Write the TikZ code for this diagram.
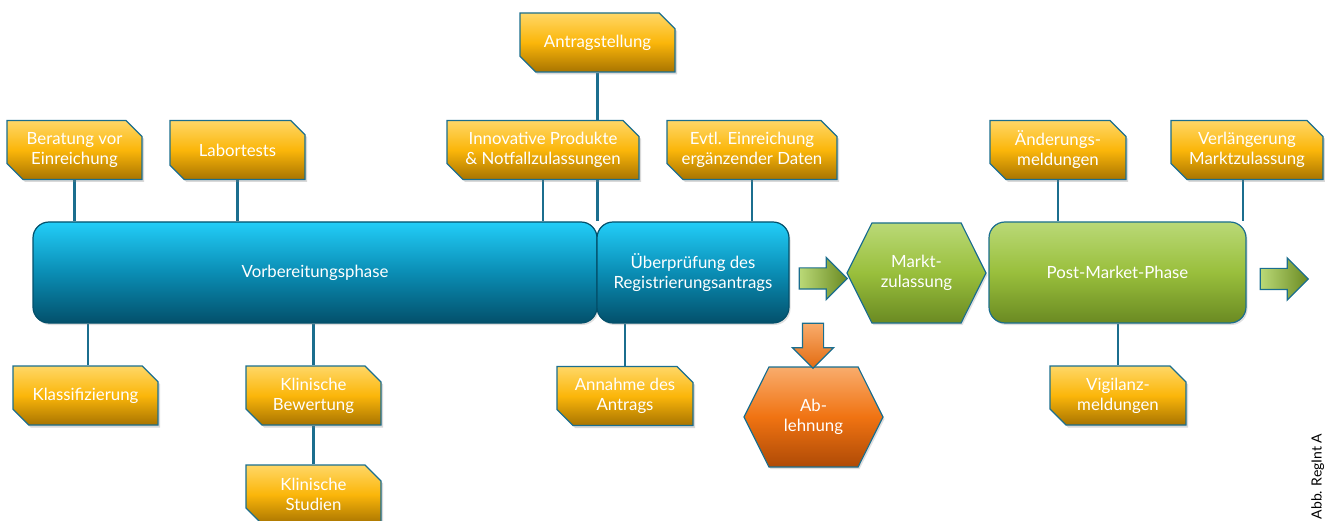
\documentclass[tikz,border=0pt]{standalone}
\usepackage{fontspec}
\setmainfont{Lato}
\usetikzlibrary{shapes,shapes.misc,shapes.arrows,shapes.symbols,shadows,backgrounds}
\definecolor{linkblue}{HTML}{1B6E8E}
\definecolor{taskhi}{HTML}{FFD766}
\definecolor{taskmid}{HTML}{FBB60A}
\definecolor{tasklo}{HTML}{A87400}
\definecolor{phasehi}{HTML}{22CDF8}
\definecolor{phasemid}{HTML}{0A8DB4}
\definecolor{phaselo}{HTML}{03506B}
\definecolor{greenhi}{HTML}{BAD977}
\definecolor{greenmid}{HTML}{99BF3C}
\definecolor{greenlo}{HTML}{6A8A22}
\definecolor{redhi}{HTML}{F9AC6C}
\definecolor{redmid}{HTML}{F07312}
\definecolor{redlo}{HTML}{AE4A06}

\begin{document}
\begin{tikzpicture}[x=1pt,y=-1pt,font=\fontsize{16.8}{20}\selectfont]
  \tikzstyle{task}=[chamfered rectangle,
                    chamfered rectangle corners={north east,south west},
                    chamfered rectangle xsep=8pt,chamfered rectangle ysep=8pt,
                    draw=linkblue,line width=1.2pt,text=white,align=center,
                    top color=taskhi,bottom color=tasklo,middle color=taskmid,
                    minimum height=59pt,inner sep=0pt,
                    drop shadow={shadow xshift=2pt,shadow yshift=-2.5pt,opacity=.3}]
  \tikzstyle{phase}=[rectangle,rounded corners=16pt,draw=phaselo,line width=1.2pt,
                     text=white,align=center,minimum height=101pt,
                     top color=phasehi,bottom color=phaselo,middle color=phasemid,
                     drop shadow={shadow xshift=1.5pt,shadow yshift=-2pt,opacity=.25}]
  \tikzstyle{green phase}=[phase,draw=linkblue,
                           top color=greenhi,bottom color=greenlo,middle color=greenmid]
  \tikzstyle{decision}=[signal,signal to=west and east,signal pointer angle=127,
                        draw=linkblue,line width=1.2pt,text=white,align=center,
                        minimum width=139pt,minimum height=100pt,inner sep=0pt,
                        top color=greenhi,bottom color=greenlo,middle color=greenmid,
                        drop shadow={shadow xshift=1.5pt,shadow yshift=-2pt,opacity=.25}]
  \tikzstyle{red decision}=[decision,
                            top color=redhi,bottom color=redlo,middle color=redmid]
  \tikzstyle{bigarrow}=[single arrow,draw=linkblue,line width=1.2pt,inner sep=10pt,
                        minimum height=48pt,
                        single arrow head extend=10.5pt,single arrow tip angle=90,
                        left color=greenhi,right color=greenlo]
  \tikzstyle{link}=[draw=linkblue,line width=2.5pt]

  \useasboundingbox (0,0) rectangle (1325,521);

  % phases
  \node [phase,minimum width=564pt] (vorb) at (315,272.5) {Vorbereitungsphase};
  \node [phase,minimum width=192pt] (pruef) at (693,272.5)
        {Überprüfung des\\Registrierungsantrags};
  \node [decision] (markt) at (916.5,273) {Markt-\\zulassung};
  \node [green phase,minimum width=257pt] (post) at (1117.5,272.5) {Post-Market-Phase};
  \node [red decision] (ablehn) at (813.5,417) {Ab-\\lehnung};

  % block arrows
  \node [bigarrow] (arr1) at (818,278.5) {};
  \node [bigarrow] (arr2) at (1279,279) {};
  \node [bigarrow,minimum height=45pt,single arrow head extend=10pt,
         shape border rotate=270,top color=redhi,bottom color=redmid!80!redlo]
        (arr3) at (813,340.5) {};

  % tasks above
  \node [task,minimum width=135pt] (berat) at (74.5,150) {Beratung vor\\Einreichung};
  \node [task,minimum width=135pt] (labor) at (237.5,150) {Labortests};
  \node [task,minimum width=155pt] (antrag) at (597.5,42.5) {Antragstellung};
  \node [task,minimum width=192pt] (innov) at (543,150)
        {Innovative Produkte\\\& Notfallzulassungen};
  \node [task,minimum width=170pt] (evtl) at (752,150)
        {Evtl. Einreichung\\ergänzender Daten};
  \node [task,minimum width=136pt] (aender) at (1058,150) {Änderungs-\\meldungen};
  \node [task,minimum width=152pt] (verl) at (1247,150)
        {Verlängerung\\Marktzulassung};

  % tasks below
  \node [task,minimum width=145pt] (klass) at (85.5,395.5) {Klassifizierung};
  \node [task,minimum width=135pt] (klinbew) at (313.5,395.5) {Klinische\\Bewertung};
  \node [task,minimum width=135pt] (klinstud) at (313.5,494.5) {Klinische\\Studien};
  \node [task,minimum width=136pt] (annahme) at (625,396) {Annahme des\\Antrags};
  \node [task,minimum width=136pt] (vigil) at (1118,395.5) {Vigilanz-\\meldungen};

  \node [rotate=90,anchor=base west,inner sep=0pt,font=\fontsize{14}{16}\selectfont]
        (quelle) at (1321.5,519.5) {Abb. RegInt A};

  \begin{scope}[on background layer]
    \draw [link] (berat.south) -- (berat.south |- vorb.north);
    \draw [link] (labor.south) -- (labor.south |- vorb.north);
    \draw [link] (innov.south) -- (innov.south |- vorb.north);
    \draw [link] (antrag.south) -- (antrag.south |- vorb.north);
    \draw [link] (evtl.south) -- (evtl.south |- pruef.north);
    \draw [link] (aender.south) -- (aender.south |- post.north);
    \draw [link] ([xshift=-4pt]verl.south) -- ([xshift=-4pt]verl.south |- post.north);
    \draw [link] ([xshift=2.5pt]klass.north) -- ([xshift=2.5pt]klass.north |- vorb.south);
    \draw [link] (klinbew.north) -- (klinbew.north |- vorb.south);
    \draw [link] (klinbew.south) -- (klinstud.north);
    \draw [link] (annahme.north) -- (annahme.north |- pruef.south);
    \draw [link] (vigil.north) -- (vigil.north |- post.south);
  \end{scope}
\end{tikzpicture}
\end{document}
